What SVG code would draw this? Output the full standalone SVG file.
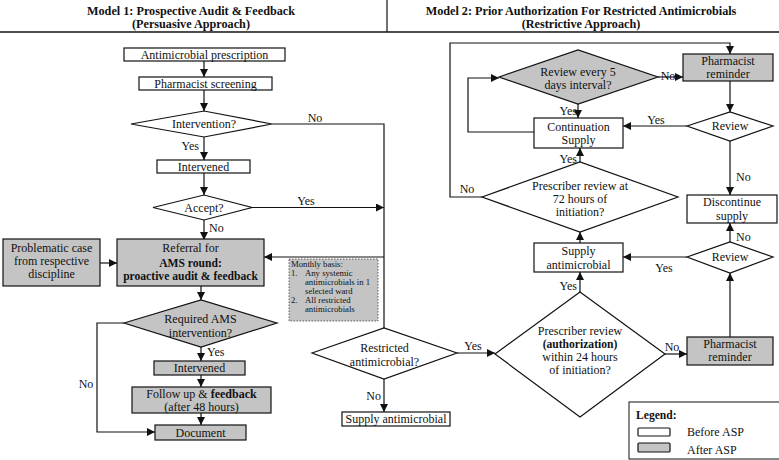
<svg xmlns="http://www.w3.org/2000/svg" width="779" height="460" viewBox="0 0 779 460">
<defs>
<marker id="ah" markerUnits="userSpaceOnUse" markerWidth="9" markerHeight="8" refX="8" refY="4" orient="auto">
<path d="M0,0 L8,4 L0,8 z" fill="#111"/>
</marker>
<style>
text{font-family:"Liberation Serif","Times New Roman",serif;font-size:12px;fill:#111;text-anchor:middle}
.t{font-weight:bold;font-size:12.2px}
.b{font-weight:bold;font-size:11.6px}
.l{text-anchor:start}
.e{text-anchor:end}
.w{fill:#fff;stroke:#111;stroke-width:1.2}
.g{fill:#c4c4c4;stroke:#111;stroke-width:1.2}
.c{fill:none;stroke:#111;stroke-width:1.2}
.a{marker-end:url(#ah)}
.s{font-size:8.7px}
</style>
</defs>
<rect width="779" height="460" fill="#fff"/>
<g id="header">
<line x1="0" y1="32" x2="779" y2="32" stroke="#111" stroke-width="1.3"/>
<line x1="387" y1="0" x2="387" y2="32" stroke="#111" stroke-width="1.2"/>
<text class="t" x="191" y="15">Model 1: Prospective Audit &amp; Feedback</text>
<text class="t" x="191" y="28">(Persuasive Approach)</text>
<text class="t" x="581" y="15">Model 2: Prior Authorization For Restricted Antimicrobials</text>
<text class="t" x="581" y="28">(Restrictive Approach)</text>
</g>
<g id="connectors">
<path class="c a" d="M204,61 V77"/>
<path class="c a" d="M204,90 V111"/>
<path class="c a" d="M204,137 V160"/>
<path class="c a" d="M204,173 V195"/>
<path class="c a" d="M204,220 V240"/>
<path class="c a" d="M252,207.5 H384"/>
<path class="c" d="M272,124 H384 V328"/>
<path class="c a" d="M384,257 H264"/>
<path class="c a" d="M100,263 H117"/>
<path class="c a" d="M201,286 V300"/>
<path class="c a" d="M201,347 V361"/>
<path class="c a" d="M201,375 V387"/>
<path class="c a" d="M201,413 V425"/>
<path class="c a" d="M124,323 H97 V432 H155"/>
<path class="c a" d="M384,379 V412"/>
<path class="c a" d="M457,353 H495"/>
<path class="c a" d="M665,354 H687"/>
<path class="c a" d="M580,292 V272"/>
<path class="c a" d="M730,337 V273"/>
<path class="c a" d="M687,257 H623"/>
<path class="c a" d="M730,242 V223"/>
<path class="c a" d="M580,243 V232"/>
<path class="c a" d="M580,162 V148"/>
<path class="c a" d="M482,197 H450 V43 H730 V54"/>
<path class="c a" d="M730,81 V112"/>
<path class="c a" d="M687,126 H623"/>
<path class="c a" d="M730,141 V195"/>
<path class="c a" d="M578,104 V118"/>
<path class="c a" d="M658,77 H683"/>
<path class="c a" d="M534,132 H468 V78 H499"/>
<text x="315" y="122">No</text>
<text class="e" x="199" y="150">Yes</text>
<text x="306" y="205">Yes</text>
<text class="l" x="209" y="232">No</text>
<text class="l" x="207" y="356">Yes</text>
<text x="86" y="388">No</text>
<text class="e" x="381" y="400">No</text>
<text x="473" y="350">Yes</text>
<text x="672" y="351">No</text>
<text class="e" x="577" y="290">Yes</text>
<text x="664" y="272">Yes</text>
<text class="l" x="736" y="241">No</text>
<text class="e" x="577" y="163">Yes</text>
<text x="467" y="193">No</text>
<text class="l" x="736" y="181">No</text>
<text x="656" y="124">Yes</text>
<text class="e" x="577" y="115">Yes</text>
<text x="668" y="80">No</text>
</g>
<g id="n_prescription">
<rect class="w" x="124" y="48" width="161" height="13"/>
<text x="204.5" y="58.5">Antimicrobial prescription</text>
</g>
<g id="n_screening">
<rect class="w" x="139" y="77" width="133" height="13"/>
<text x="205.5" y="87.5">Pharmacist screening</text>
</g>
<g id="d_intervention">
<polygon class="w" points="131,124 204,111 272,124 204,137"/>
<text x="204" y="128">Intervention?</text>
</g>
<g id="n_intervened1">
<rect class="w" x="157" y="160" width="93" height="13"/>
<text x="203.5" y="170.5">Intervened</text>
</g>
<g id="d_accept">
<polygon class="w" points="153,207.5 204,195 252,207.5 204,220"/>
<text x="204" y="211.5">Accept?</text>
</g>
<g id="n_referral">
<rect class="g" x="117" y="239" width="147" height="47"/>
<text x="190.5" y="252">Referral for</text>
<text class="b" x="190.5" y="266.5">AMS round:</text>
<text class="b" x="190.5" y="280">proactive audit &amp; feedback</text>
</g>
<g id="n_problematic">
<rect class="g" x="3" y="239" width="97" height="47"/>
<text x="51.5" y="252">Problematic case</text>
<text x="51.5" y="264.5">from respective</text>
<text x="51.5" y="277.5">discipline</text>
</g>
<g id="note">
<rect x="289" y="259" width="89" height="62" fill="#c4c4c4" stroke="#444" stroke-width="0.8" stroke-dasharray="1.5,1.5"/>
<text class="s l" x="291" y="267">Monthly basis:</text>
<text class="s l" x="291" y="276">1.</text>
<text class="s l" x="305" y="276">Any systemic</text>
<text class="s l" x="305" y="285">antimicrobials in 1</text>
<text class="s l" x="305" y="294">selected ward</text>
<text class="s l" x="291" y="303">2.</text>
<text class="s l" x="305" y="303">All restricted</text>
<text class="s l" x="305" y="312">antimicrobials</text>
</g>
<g id="d_required">
<polygon class="g" points="124,323 201,300 277,323 201,347"/>
<text x="200.5" y="322.5">Required AMS</text>
<text x="200.5" y="336.5">intervention?</text>
</g>
<g id="n_intervened2">
<rect class="g" x="154" y="361" width="91" height="14"/>
<text x="199.5" y="372">Intervened</text>
</g>
<g id="n_followup">
<rect class="g" x="132" y="387" width="139" height="26"/>
<text x="201.5" y="398">Follow up &amp; <tspan font-weight="bold">feedback</tspan></text>
<text x="201.5" y="410.5">(after 48 hours)</text>
</g>
<g id="n_document">
<rect class="g" x="155" y="425" width="91" height="15"/>
<text x="200.5" y="436.5">Document</text>
</g>
<g id="d_restricted">
<polygon class="w" points="312,353 384,328 457,353 384,379"/>
<text x="384.5" y="352">Restricted</text>
<text x="384.5" y="366">antimicrobial?</text>
</g>
<g id="n_supply_bottom">
<rect class="w" x="342" y="412" width="108" height="14"/>
<text x="396" y="423">Supply antimicrobial</text>
</g>
<g id="d_24h">
<polygon class="w" points="495,354 580,292 665,354 580,417"/>
<text x="580" y="335">Prescriber review</text>
<text class="b" x="580" y="348">(authorization)</text>
<text x="580" y="361">within 24 hours</text>
<text x="580" y="374">of initiation?</text>
</g>
<g id="n_pharm_bottom">
<rect class="g" x="687" y="337" width="86" height="28"/>
<text x="730" y="348">Pharmacist</text>
<text x="730" y="361">reminder</text>
</g>
<g id="d_review_bottom">
<polygon class="w" points="687,257 730,242 773,257 730,273"/>
<text x="730" y="261">Review</text>
</g>
<g id="n_supply">
<rect class="w" x="534" y="243" width="89" height="29"/>
<text x="578.5" y="255">Supply</text>
<text x="578.5" y="268.5">antimicrobial</text>
</g>
<g id="d_72h">
<polygon class="w" points="482,197 580,162 678,197 580,232"/>
<text x="580" y="190">Prescriber review at</text>
<text x="580" y="203">72 hours of</text>
<text x="580" y="215.5">initiation?</text>
</g>
<g id="n_discontinue">
<rect class="w" x="687" y="195" width="90" height="28"/>
<text x="732" y="206">Discontinue</text>
<text x="732" y="219.5">supply</text>
</g>
<g id="d_review_top">
<polygon class="w" points="687,126 730,112 773,126 730,141"/>
<text x="730" y="130">Review</text>
</g>
<g id="n_continuation">
<rect class="w" x="534" y="118" width="89" height="30"/>
<text x="578.5" y="130.5">Continuation</text>
<text x="578.5" y="144">Supply</text>
</g>
<g id="d_review5">
<polygon class="g" points="499,77 578,50 658,77 578,104"/>
<text x="578" y="75.5">Review every 5</text>
<text x="578" y="89">days interval?</text>
</g>
<g id="n_pharm_top">
<rect class="g" x="683" y="54" width="90" height="27"/>
<text x="728" y="64.5">Pharmacist</text>
<text x="728" y="77.5">reminder</text>
</g>
<g id="legend">
<rect x="629" y="402" width="156" height="57" fill="#fff" stroke="#111" stroke-width="1"/>
<text class="b l" x="636" y="419">Legend:</text>
<rect class="w" x="638" y="428" width="32" height="8" rx="1"/>
<text class="l" x="687" y="436">Before ASP</text>
<rect class="g" x="638" y="443" width="32" height="9" rx="1"/>
<text class="l" x="687" y="454">After ASP</text>
</g>
</svg>
